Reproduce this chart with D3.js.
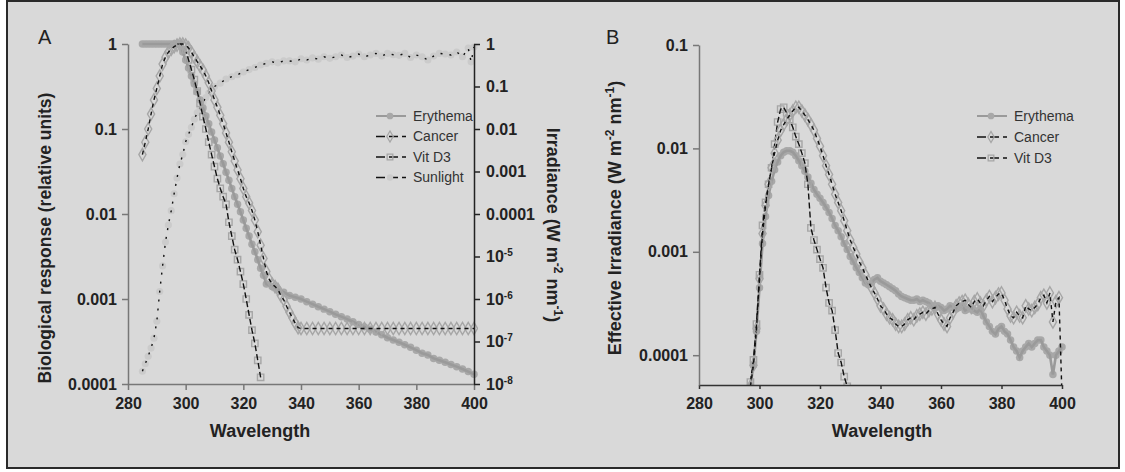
<!DOCTYPE html>
<html>
<head>
<meta charset="utf-8">
<script src="https://cdn.jsdelivr.net/npm/d3@7"></script>
<style>
  body { margin: 0; background: #fff; }
  text { font-family: "Liberation Sans", Arial, sans-serif; }
</style>
</head>
<body>
<svg id="chart" width="1125" height="472"></svg>
<script>
// ---- data ----
var X_TICKS = [280, 300, 320, 340, 360, 380, 400];
var A_LEFT_TICKS = [1, 0.1, 0.01, 0.001, 0.0001];
var A_RIGHT_TICKS = [1, 0.1, 0.01, 0.001, 0.0001, 1e-5, 1e-6, 1e-7, 1e-8];
var B_TICKS = [0.1, 0.01, 0.001, 0.0001];

// panel A, action spectra (relative units) and sunlight (W m-2 nm-1)
var ERY_A = [[285,1],[286,1],[287,1],[288,1],[289,1],[290,1],[291,1],[292,1],[293,1],[294,1],[295,1],[296,1],[297,1],[298,1],
  [299,0.805],[300,0.649],[301,0.522],[302,0.42],[303,0.338],[304,0.273],[305,0.22],[306,0.177],[307,0.142],[308,0.115],
  [309,0.092],[310,0.074],[311,0.06],[312,0.048],[313,0.039],[314,0.031],[315,0.025],[316,0.02],[317,0.016],[318,0.013],
  [319,0.0106],[320,0.0085],[321,0.0068],[322,0.0055],[323,0.0044],[324,0.0036],[325,0.0029],[326,0.0023],[327,0.0019],
  [328,0.0015],[330,0.0014],[332,0.0013],[334,0.0012],[336,0.0011],[338,0.00105],[340,0.001],[342,0.00093],[344,0.00087],
  [346,0.00081],[348,0.00076],[350,0.00071],[352,0.00066],[354,0.00062],[356,0.00058],[358,0.00054],[360,0.0005],
  [362,0.00047],[364,0.00044],[366,0.00041],[368,0.00038],[370,0.00035],[372,0.00033],[374,0.00031],[376,0.00029],
  [378,0.00027],[380,0.00025],[382,0.00023],[384,0.00022],[386,0.0002],[388,0.00019],[390,0.00018],[392,0.00017],
  [394,0.00016],[396,0.00015],[398,0.00014],[400,0.00013]];

var CANCER_A = [[285,0.05],[286,0.07],[287,0.1],[288,0.15],[289,0.22],[290,0.3],[291,0.42],[292,0.58],[293,0.7],[294,0.8],
  [295,0.87],[296,0.93],[297,0.97],[298,1],[299,1],[300,0.97],[301,0.9],[302,0.8],[303,0.7],[304,0.62],[305,0.55],
  [306,0.49],[307,0.42],[308,0.35],[309,0.28],[310,0.22],[311,0.18],[312,0.145],[313,0.115],[314,0.09],[315,0.07],
  [316,0.054],[317,0.042],[318,0.033],[319,0.026],[320,0.02],[321,0.016],[322,0.0135],[323,0.011],[324,0.0085],
  [325,0.0062],[326,0.0043],[327,0.003],[328,0.0021],[329,0.0017],[330,0.0015],[331,0.0014],[332,0.0013],[333,0.0011],
  [334,0.00098],[335,0.00082],[336,0.0007],[337,0.0006],[338,0.00052],[339,0.00046],[340,0.00045],[342,0.00045],
  [344,0.00045],[346,0.00045],[348,0.00045],[350,0.00045],[352,0.00045],[354,0.00045],[356,0.00045],[358,0.00045],
  [360,0.00045],[362,0.00045],[364,0.00045],[366,0.00045],[368,0.00045],[370,0.00045],[372,0.00045],[374,0.00045],
  [376,0.00045],[378,0.00045],[380,0.00045],[382,0.00045],[384,0.00045],[386,0.00045],[388,0.00045],[390,0.00045],
  [392,0.00045],[394,0.00045],[396,0.00045],[398,0.00045],[400,0.00045]];

var VITD_A = [[297,1],[298,1],[299,0.95],[300,0.85],[301,0.65],[302,0.5],[303,0.38],[304,0.28],[305,0.2],[306,0.14],
  [307,0.1],[308,0.07],[309,0.05],[310,0.036],[311,0.026],[312,0.02],[313,0.016],[314,0.013],[315,0.008],[316,0.0055],
  [317,0.0038],[318,0.0029],[319,0.0021],[320,0.0015],[321,0.001],[322,0.00065],[323,0.00043],[324,0.0003],
  [325,0.00019],[326,0.00012]];

var SUN_A = [[285,2e-8],[286,3e-8],[287,4.5e-8],[288,7e-8],[289,1.2e-7],[290,3e-7],[291,1.5e-6],[292,6e-6],[293,2.2e-5],
  [294,5.5e-5],[295,1.2e-4],[296,3e-4],[297,7e-4],[298,1.5e-3],[299,2.5e-3],[300,5e-3],[301,7.5e-3],[302,0.011],
  [303,0.017],[304,0.024],[305,0.032],[306,0.042],[307,0.055],[308,0.07],[309,0.085],[310,0.1],[312,0.12],[314,0.15],
  [316,0.17],[318,0.19],[320,0.22],[322,0.25],[324,0.28],[326,0.32],[328,0.35],[330,0.38],[332,0.36],[334,0.4],
  [336,0.4],[338,0.38],[340,0.45],[342,0.42],[344,0.47],[346,0.44],[348,0.5],[350,0.46],[352,0.5],[354,0.55],[356,0.48],
  [358,0.52],[360,0.58],[362,0.5],[364,0.55],[366,0.6],[368,0.52],[370,0.6],[372,0.56],[374,0.54],[376,0.6],[378,0.48],
  [380,0.55],[382,0.5],[384,0.42],[386,0.52],[388,0.6],[390,0.58],[392,0.55],[394,0.65],[396,0.5],[398,0.8],[399,0.38],
  [400,0.85]];

// panel B, effective irradiance (W m-2 nm-1)
var ERY_B = [[297,5e-5],[298,8e-5],[299,1.7e-4],[300,4.5e-4],[301,0.0012],[302,0.0022],[303,0.0035],[304,0.0048],
  [305,0.0062],[306,0.0074],[307,0.0085],[308,0.0092],[309,0.0095],[310,0.0095],[311,0.0092],[312,0.0085],[313,0.0076],
  [314,0.0068],[315,0.006],[316,0.0053],[317,0.0046],[318,0.004],[319,0.0036],[320,0.0033],[321,0.003],[322,0.0027],
  [323,0.0024],[324,0.0021],[325,0.0018],[326,0.0016],[327,0.0014],[328,0.0012],[329,0.00105],[330,0.0009],[331,0.0008],
  [332,0.0007],[333,0.00063],[334,0.00056],[335,0.0005],[336,0.00048],[337,0.0005],[338,0.00054],[339,0.00056],
  [340,0.00052],[341,0.0005],[342,0.00048],[343,0.00046],[344,0.00044],[345,0.00042],[346,0.00039],[347,0.00037],
  [348,0.00036],[349,0.00035],[350,0.00034],[351,0.00034],[352,0.00035],[353,0.00033],[354,0.00034],[355,0.00033],
  [356,0.00032],[357,0.0003],[358,0.00029],[359,0.0003],[360,0.00029],[361,0.00027],[362,0.00028],[363,0.0003],
  [364,0.00029],[365,0.00028],[366,0.00029],[367,0.0003],[368,0.00027],[369,0.00028],[370,0.00029],[371,0.00027],
  [372,0.00026],[373,0.00028],[374,0.00024],[375,0.00021],[376,0.00019],[377,0.00017],[378,0.00016],[379,0.00018],
  [380,0.00019],[381,0.00017],[382,0.00016],[383,0.00014],[384,0.00012],[385,0.00011],[386,0.000095],[387,0.00011],
  [388,0.00012],[389,0.00013],[390,0.00012],[391,0.00013],[392,0.00014],[393,0.00014],[394,0.00012],[395,0.00011],
  [396,0.0001],[397,0.000065],[398,0.0001],[399,0.00011],[400,0.00012]];

var CANCER_B = [[297,5e-5],[298,8e-5],[299,1.8e-4],[300,5.5e-4],[301,0.0015],[302,0.0028],[303,0.0045],[304,0.0065],
  [305,0.009],[306,0.012],[307,0.015],[308,0.017],[309,0.019],[310,0.021],[311,0.023],[312,0.025],[313,0.025],
  [314,0.023],[315,0.021],[316,0.019],[317,0.017],[318,0.015],[319,0.0125],[320,0.0105],[321,0.0085],[322,0.0068],
  [323,0.0056],[324,0.0045],[325,0.0036],[326,0.003],[327,0.0025],[328,0.002],[329,0.0016],[330,0.0013],[331,0.0011],
  [332,0.00095],[333,0.0008],[334,0.0007],[335,0.0006],[336,0.00052],[337,0.00045],[338,0.0004],[339,0.00035],
  [340,0.0003],[341,0.00028],[342,0.00025],[343,0.00023],[344,0.00022],[345,0.0002],[346,0.00019],[347,0.00019],
  [348,0.0002],[349,0.00022],[350,0.00023],[351,0.00022],[352,0.00024],[353,0.00025],[354,0.00026],[355,0.00025],
  [356,0.00027],[357,0.00028],[358,0.00029],[359,0.00025],[360,0.00022],[361,0.0002],[362,0.00019],[363,0.00023],
  [364,0.00026],[365,0.0003],[366,0.00032],[367,0.00033],[368,0.00034],[369,0.00031],[370,0.00029],[371,0.00033],
  [372,0.00035],[373,0.00032],[374,0.0003],[375,0.00034],[376,0.00037],[377,0.00033],[378,0.00036],[379,0.00039],
  [380,0.0004],[381,0.00034],[382,0.00028],[383,0.00024],[384,0.00023],[385,0.00026],[386,0.00024],[387,0.00023],
  [388,0.0003],[389,0.00028],[390,0.00027],[391,0.00029],[392,0.00031],[393,0.00036],[394,0.00038],[395,0.00032],
  [396,0.0004],[397,0.00021],[398,0.00033],[399,0.00036],[400,0.00004]];

var VITD_B = [[297,5.5e-5],[298,9e-5],[299,2e-4],[300,6e-4],[301,0.0018],[302,0.003],[303,0.0045],[304,0.0065],
  [305,0.011],[306,0.018],[307,0.024],[308,0.025],[309,0.022],[310,0.019],[311,0.016],[312,0.013],[313,0.011],
  [314,0.009],[315,0.0072],[316,0.0045],[317,0.0017],[318,0.0013],[319,0.00105],[320,0.00085],[321,0.0007],
  [322,0.00045],[323,0.00032],[324,0.00027],[325,0.000175],[326,0.000105],[327,0.000085],[328,0.000062],[329,0.00005]];

var LEGEND_A = ["Erythema", "Cancer", "Vit D3", "Sunlight"];
var LEGEND_B = ["Erythema", "Cancer", "Vit D3"];

// ---- styles per series ----
var STYLE = {
  "Erythema": { line: "#9a9a9a", width: 2.6, dash: null, symbol: d3.symbolCircle, size: 44, fill: "#a8a8a8", stroke: "none" },
  "Cancer":   { line: "#111", width: 1.4, dash: "4,4", symbol: d3.symbolDiamond, size: 44, fill: "none", stroke: "#a6a6a6" },
  "Vit D3":   { line: "#111", width: 1.4, dash: "6,3", symbol: d3.symbolSquare, size: 40, fill: "none", stroke: "#a6a6a6" },
  "Sunlight": { line: "#111", width: 1.4, dash: "2,7", symbol: d3.symbolCircle, size: 40, fill: "#cbcbcb", stroke: "none" }
};

document.addEventListener("DOMContentLoaded", function() {
  var svg = d3.select("#chart");

  svg.append("rect")
    .attr("x", 7).attr("y", 1)
    .attr("width", 1112).attr("height", 467)
    .attr("fill", "#d9d9d9")
    .attr("stroke", "#2a2a2a")
    .attr("stroke-width", 2);

  drawPanelA(svg);
  drawPanelB(svg);
});

function superLabel(sel, d) {
  // 1 .. 0.0001 plain, smaller ones as 10^n
  var e = Math.round(Math.log10(d));
  if (e >= -4) {
    sel.text((+d.toPrecision(1)).toString());
  } else {
    sel.text("10");
    sel.append("tspan").attr("dy", -6).attr("font-size", 10).text(e);
  }
}

function drawSeries(g, data, name, x, y) {
  var st = STYLE[name];
  var pts = g.append("g");
  pts.selectAll("path")
    .data(data)
    .enter()
    .append("path")
    .attr("d", d3.symbol().type(st.symbol).size(st.size))
    .attr("transform", (d) => ("translate(" + x(d[0]) + "," + y(d[1]) + ")"))
    .attr("fill", st.fill)
    .attr("stroke", st.stroke)
    .attr("stroke-width", 1.4);

  var line = d3.line()
    .x((d) => x(d[0]))
    .y((d) => y(d[1]));

  g.append("path")
    .datum(data)
    .attr("d", line)
    .attr("fill", "none")
    .attr("stroke", st.line)
    .attr("stroke-width", st.width)
    .attr("stroke-dasharray", st.dash);
}

function drawLegend(svg, names, x0, y0, dy) {
  var item = svg.append("g").selectAll("g")
    .data(names)
    .enter()
    .append("g")
    .attr("transform", (d, i) => ("translate(" + x0 + "," + (y0 + i * dy) + ")"));

  item.append("line")
    .attr("x1", 0).attr("x2", 30)
    .attr("stroke", (d) => STYLE[d].line)
    .attr("stroke-width", (d) => Math.min(STYLE[d].width, 2))
    .attr("stroke-dasharray", (d) => (STYLE[d].dash ? "9,4" : null));

  item.append("path")
    .attr("d", (d) => d3.symbol().type(STYLE[d].symbol).size(STYLE[d].size * 0.8)())
    .attr("transform", "translate(14,0)")
    .attr("fill", (d) => STYLE[d].fill)
    .attr("stroke", (d) => STYLE[d].stroke)
    .attr("stroke-width", 1.3);

  item.append("text")
    .attr("x", 37)
    .attr("dy", "0.35em")
    .attr("font-size", 14)
    .attr("fill", "#333")
    .text((d) => d);
}

function styleAxis(g, color) {
  g.selectAll(".domain").attr("stroke", color).attr("stroke-width", 1.5);
  g.selectAll(".tick line").attr("stroke", color).attr("stroke-width", 1.5);
  g.selectAll(".tick text")
    .attr("fill", "#222")
    .attr("font-size", 16)
    .attr("font-weight", "bold")
    .attr("font-family", "Liberation Sans, Arial, sans-serif");
}

function drawPanelA(svg) {
  var x = d3.scaleLinear().domain([280, 400]).range([128, 474]);
  var yL = d3.scaleLog().domain([0.0001, 1]).range([384, 44]);
  var yR = d3.scaleLog().domain([1e-8, 1]).range([384, 44]);

  svg.append("clipPath").attr("id", "clipA")
    .append("rect").attr("x", 128).attr("y", 30).attr("width", 350).attr("height", 358);

  var plot = svg.append("g").attr("clip-path", "url(#clipA)");
  drawSeries(plot, SUN_A, "Sunlight", x, yR);
  drawSeries(plot, ERY_A, "Erythema", x, yL);
  drawSeries(plot, VITD_A, "Vit D3", x, yL);
  drawSeries(plot, CANCER_A, "Cancer", x, yL);

  var gx = svg.append("g")
    .attr("transform", "translate(0,384)")
    .call(d3.axisBottom(x).tickValues(X_TICKS).tickSize(6).tickPadding(8).tickSizeOuter(0));
  styleAxis(gx, "#777");

  var gl = svg.append("g")
    .attr("transform", "translate(128,0)")
    .call(d3.axisLeft(yL).tickValues(A_LEFT_TICKS).tickSize(6).tickPadding(5).tickSizeOuter(0)
      .tickFormat((d) => (+d.toPrecision(1)).toString()));
  styleAxis(gl, "#777");

  var gr = svg.append("g")
    .attr("transform", "translate(474,0)")
    .call(d3.axisRight(yR).tickValues(A_RIGHT_TICKS).tickSize(6).tickPadding(6).tickSizeOuter(0).tickFormat(""));
  styleAxis(gr, "#222");
  gr.selectAll(".tick text").each(function(d) { superLabel(d3.select(this), d); });

  svg.append("text")
    .attr("x", 38).attr("y", 44)
    .attr("font-size", 20)
    .attr("fill", "#222")
    .text("A");

  svg.append("text")
    .attr("x", 260).attr("y", 437)
    .attr("text-anchor", "middle")
    .attr("font-size", 18)
    .attr("font-weight", "bold")
    .attr("fill", "#222")
    .text("Wavelength");

  svg.append("text")
    .attr("transform", "translate(51,238) rotate(-90)")
    .attr("text-anchor", "middle")
    .attr("font-size", 17.5)
    .attr("font-weight", "bold")
    .attr("fill", "#222")
    .text("Biological response (relative units)");

  var rl = svg.append("text")
    .attr("transform", "translate(547,225) rotate(90)")
    .attr("text-anchor", "middle")
    .attr("font-size", 18)
    .attr("font-weight", "bold")
    .attr("fill", "#222");
  rl.append("tspan").text("Irradiance (W m");
  rl.append("tspan").attr("dy", -7).attr("font-size", 12).text("-2");
  rl.append("tspan").attr("dy", 7).text(" nm");
  rl.append("tspan").attr("dy", -7).attr("font-size", 12).text("-1");
  rl.append("tspan").attr("dy", 7).text(")");

  drawLegend(svg, LEGEND_A, 376, 116, 20.5);
}

function drawPanelB(svg) {
  var x = d3.scaleLinear().domain([280, 400]).range([699, 1062]);
  var y = d3.scaleLog().domain([5.15e-5, 0.1]).range([385, 45]);

  svg.append("clipPath").attr("id", "clipB")
    .append("rect").attr("x", 699).attr("y", 30).attr("width", 368).attr("height", 355);

  var plot = svg.append("g").attr("clip-path", "url(#clipB)");
  drawSeries(plot, ERY_B, "Erythema", x, y);
  drawSeries(plot, VITD_B, "Vit D3", x, y);
  drawSeries(plot, CANCER_B, "Cancer", x, y);

  var gx = svg.append("g")
    .attr("transform", "translate(0,385)")
    .call(d3.axisBottom(x).tickValues(X_TICKS).tickSize(4).tickPadding(9).tickSizeOuter(0));
  styleAxis(gx, "#333");

  var gy = svg.append("g")
    .attr("transform", "translate(699,0)")
    .call(d3.axisLeft(y).tickValues(B_TICKS).tickSize(6).tickPadding(5).tickSizeOuter(0)
      .tickFormat((d) => (+d.toPrecision(1)).toString()));
  styleAxis(gy, "#777");

  svg.append("text")
    .attr("x", 606).attr("y", 44)
    .attr("font-size", 20)
    .attr("fill", "#222")
    .text("B");

  svg.append("text")
    .attr("x", 882).attr("y", 437)
    .attr("text-anchor", "middle")
    .attr("font-size", 18)
    .attr("font-weight", "bold")
    .attr("fill", "#222")
    .text("Wavelength");

  var yl = svg.append("text")
    .attr("transform", "translate(621,218) rotate(-90)")
    .attr("text-anchor", "middle")
    .attr("font-size", 18)
    .attr("font-weight", "bold")
    .attr("fill", "#222");
  yl.append("tspan").text("Effective Irradiance (W m");
  yl.append("tspan").attr("dy", -7).attr("font-size", 12).text("-2");
  yl.append("tspan").attr("dy", 7).text(" nm");
  yl.append("tspan").attr("dy", -7).attr("font-size", 12).text("-1");
  yl.append("tspan").attr("dy", 7).text(")");

  drawLegend(svg, LEGEND_B, 977, 116, 21);
}
</script>
</body>
</html>
